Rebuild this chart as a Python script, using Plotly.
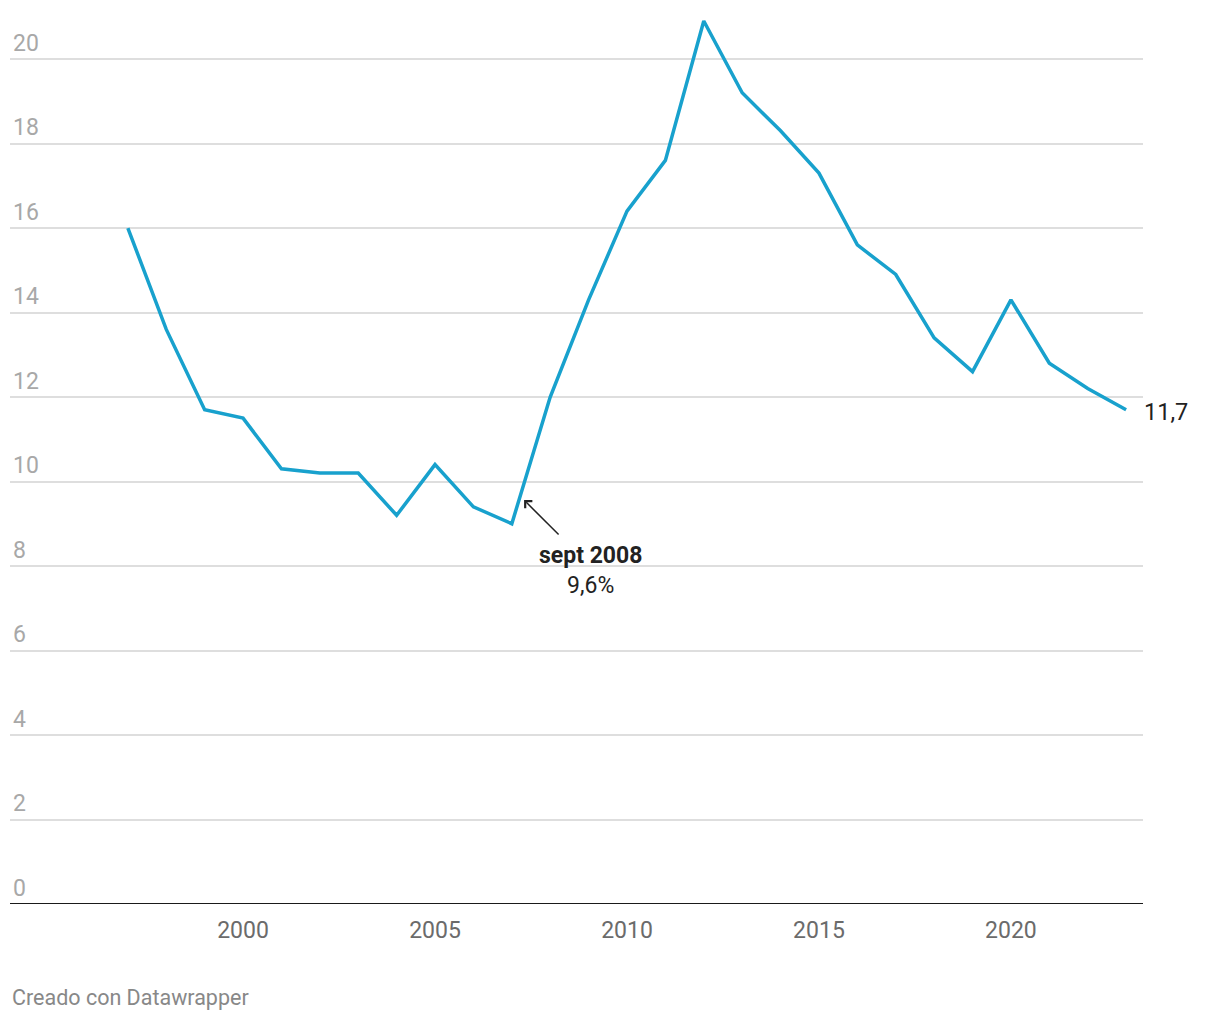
import plotly.graph_objects as go

years = list(range(1997, 2024))
values = [16.0, 13.6, 11.7, 11.5, 10.3, 10.2, 10.2, 9.2, 10.4, 9.4, 9.0,
          12.0, 14.3, 16.4, 17.6, 20.9, 19.2, 18.3, 17.3, 15.6, 14.9, 13.4,
          12.6, 14.3, 12.8, 12.2, 11.7]
y_ticks = [0, 2, 4, 6, 8, 10, 12, 14, 16, 18, 20]
x_ticks = [2000, 2005, 2010, 2015, 2020]
last_label = "11,7"
note_title = "sept 2008"
note_value = "9,6%"
note_x = 2007.32
note_y = 9.56

FONT = "Roboto"
LINE = "#18a1cd"

fig = go.Figure()
fig.add_trace(go.Scatter(x=years, y=values, mode="lines",
                         line=dict(color=LINE, width=3.5),
                         hoverinfo="skip", showlegend=False))

fig.update_layout(
    width=1220, height=1020,
    margin=dict(l=2, r=85, t=2, b=124),
    plot_bgcolor="white", paper_bgcolor="white",
    font=dict(family=FONT),
    xaxis=dict(range=[1993.93, 2023.44], tickvals=x_ticks,
               ticktext=[str(v) for v in x_ticks],
               showgrid=False, zeroline=False, showline=False,
               ticks="", ticklen=0, ticklabelstandoff=10,
               tickfont=dict(family=FONT, size=23, color="#6b6b6b")),
    yaxis=dict(range=[0, 21.16], tickvals=y_ticks,
               ticktext=[str(v) for v in y_ticks],
               showgrid=True, gridcolor="#dedede", gridwidth=1.5,
               zeroline=False, showline=False, ticks="",
               ticklabelposition="inside top",
               tickfont=dict(family=FONT, size=23, color="#a8a8a8")),
)

# baseline at zero
fig.add_shape(type="line", xref="paper", yref="y", x0=0, x1=1, y0=0, y1=0,
              line=dict(color="#1a1a1a", width=2))

# end label
fig.add_annotation(x=years[-1], y=values[-1], text=last_label, showarrow=False,
                   xanchor="left", yanchor="middle", xshift=16, yshift=-2,
                   font=dict(family=FONT, size=23.5, color="#222222"))

# arrow annotation
fig.add_annotation(x=note_x, y=note_y, text="", showarrow=True,
                   ax=36, ay=36, axref="pixel", ayref="pixel",
                   arrowhead=4, arrowsize=1.3, arrowwidth=1.5,
                   arrowcolor="#222222", standoff=0, startstandoff=0)
fig.add_annotation(x=note_x, y=note_y, text="<b>" + note_title + "</b><br>" + note_value,
                   showarrow=False, xanchor="center", yanchor="top",
                   xshift=66, yshift=-40, align="center",
                   font=dict(family=FONT, size=23, color="#222222"))

# footer
fig.add_annotation(xref="paper", yref="paper", x=0, y=0, yshift=-93,
                   text="Creado con Datawrapper", showarrow=False,
                   xanchor="left", yanchor="middle",
                   font=dict(family=FONT, size=21.5, color="#888888"))

fig.write_html("out.html")
